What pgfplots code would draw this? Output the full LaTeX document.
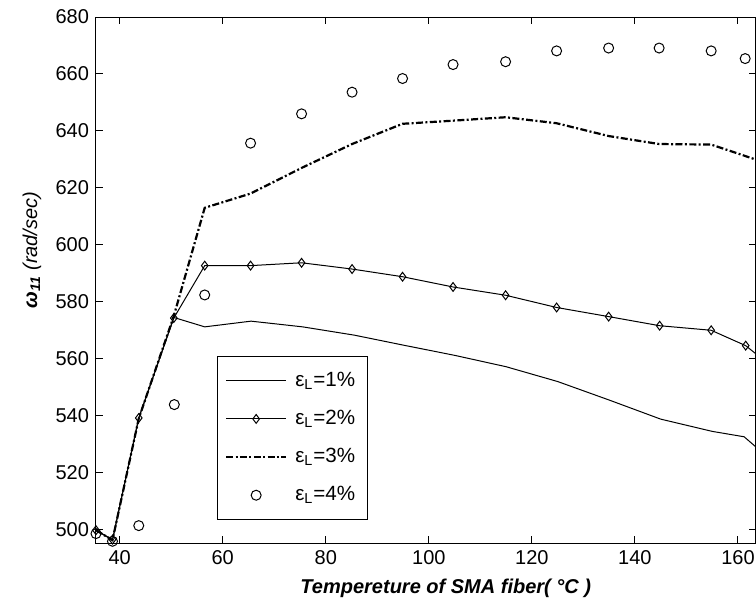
\documentclass[border=0pt]{standalone}
\usepackage{fontspec}
\setmainfont{Liberation Sans}
\usepackage{pgfplots}
\pgfplotsset{compat=1.18}

\begin{document}
\begin{tikzpicture}
\begin{axis}[
  name=ax,
  scale only axis,
  width=330pt, height=263pt,
  xmin=35.4, xmax=163.5,
  ymin=495.3, ymax=680,
  xtick={40,60,...,160},
  ytick={500,520,...,680},
  tick align=inside,
  major tick length=3.5pt,
  tick style={black, line width=0.5pt},
  axis line style={line width=0.5pt},
  clip=false,
  /pgf/number format/assume math mode=true,
  ticklabel style={font=\fontsize{10}{12}\selectfont},
  xlabel={\bfseries\itshape Tempereture of SMA fiber( °C )},
  xlabel style={at={(axis description cs:0.53,-0.0856)}, anchor=center, font=\fontsize{10}{12}\selectfont},
  ylabel={\textbf{\textit{ω}}\textsubscript{\textbf{\textit{11}}} \textit{(rad/sec)}},
  ylabel style={at={(axis description cs:-0.097,0.557)}, anchor=center, rotate=0, font=\fontsize{10}{12}\selectfont},
  legend image code/.code={\draw[mark repeat=2,mark phase=2,#1] plot coordinates {(0pt,0pt)(15pt,0pt)(30pt,0pt)};},
  legend style={at={(axis cs:58.8,561.1)}, anchor=north west, draw=black, line width=0.5pt,
    font=\fontsize{10.3}{12}\selectfont, row sep=6.4pt, inner xsep=4pt, inner ysep=6pt,
    /tikz/every odd column/.style={column sep=2pt}},
  legend cell align=left,
]
% eps_L = 1%
\addplot[black, line width=0.5pt] coordinates {
  (35.4,499.8) (38.6,496.3) (43.7,539.2) (50.5,574.5) (56.5,571.2) (65.5,573.2)
  (75.5,571.2) (85.5,568.3) (95,564.8) (105,561.2) (115,557.2) (125,552)
  (135,545.5) (145,538.8) (155,534.5) (161.2,532.6) (163.5,529)
};
\addlegendentry{ε\textsubscript{L}=1\%}
% eps_L = 2%
\addplot[black, line width=0.5pt, mark=diamond, mark size=2.2pt, mark options={solid}] coordinates {
  (35.4,499.8) (38.6,496.5) (43.7,539.2) (50.5,574.3) (56.5,592.7) (65.4,592.7)
  (75.3,593.7) (85.1,591.5) (94.9,588.8) (104.7,585.2) (114.9,582.3) (124.8,578)
  (134.9,574.8) (144.8,571.6) (154.8,570) (161.5,564.6)
};
\addlegendentry{ε\textsubscript{L}=2\%}
\addplot[black, line width=0.5pt, forget plot] coordinates {(161.5,564.6) (163.5,561.7)};
% eps_L = 3%
\addplot[black, line width=1.1pt, dash pattern=on 3.5pt off 1.2pt on 1pt off 1.2pt] coordinates {
  (35.4,499.8) (38.6,496.3) (43.7,539) (50.5,575) (56.5,613) (65.4,618)
  (75.3,627) (85.1,635.4) (94.9,642.5) (104.7,643.6) (114.9,644.8) (124.8,642.7)
  (134.9,638.2) (144.7,635.4) (154.8,635.2) (161.4,631.2) (163.5,629.9)
};
\addlegendentry{ε\textsubscript{L}=3\%}
% eps_L = 4%
\addplot[black, only marks, mark=o, mark size=2.5pt, line width=0.5pt] coordinates {
  (35.4,498.6) (38.6,495.9) (43.7,501.4) (50.6,543.9) (56.5,582.4) (65.4,635.7)
  (75.3,646) (85.1,653.6) (94.9,658.4) (104.7,663.3) (114.9,664.3) (124.8,668.1)
  (134.9,669.1) (144.7,669.1) (154.8,668.1) (161.4,665.4)
};
\addlegendentry{ε\textsubscript{L}=4\%}
\end{axis}
\pgfresetboundingbox
\path ([shift={(-48pt,-32.5pt)}]ax.south west) rectangle ([shift={(0pt,8.5pt)}]ax.north east);
\end{tikzpicture}
\end{document}
